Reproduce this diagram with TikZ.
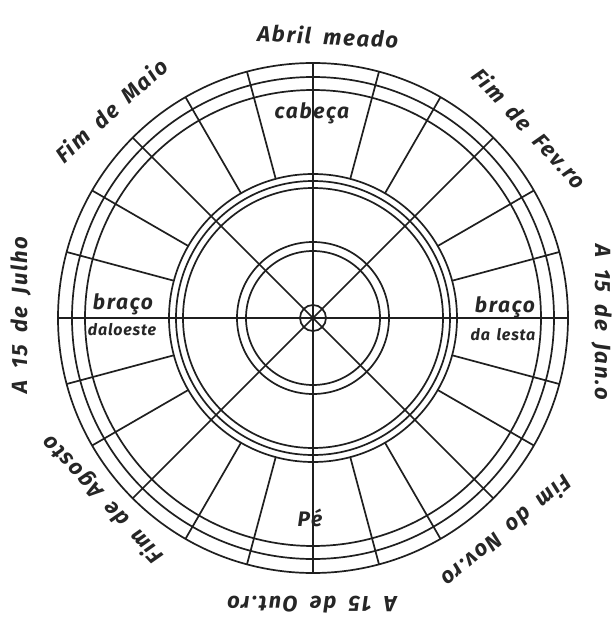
\documentclass[tikz,border=0pt]{standalone}
\usepackage{fontspec}
\setmainfont{Fira Sans}
\newfontfamily\handfont[LetterSpace=8,WordSpace=1.8]{Fira Sans}
\newfontfamily\handsmall[LetterSpace=5,WordSpace=1.5]{Fira Sans}
\begin{document}
\begin{tikzpicture}[x=1pt,y=1pt,
  ink/.style={line width=1.7pt,draw=black!88},
  outerlab/.style={font=\handfont\bfseries\itshape\fontsize{22}{24}\selectfont,text=black!85,inner sep=0pt},
  innerlab/.style={font=\handfont\bfseries\itshape\fontsize{21}{23}\selectfont,text=black!85,inner sep=0pt},
  smalllab/.style={font=\handsmall\bfseries\itshape\fontsize{16}{18}\selectfont,text=black!85,inner sep=0pt}]
\useasboundingbox (-313,-304) rectangle (303,318);
\fill[white] (-313,-304) rectangle (303,318);
% circles
\foreach \r in {13,67,76,130,137,144,228,241,255}
  \draw[ink] (0,0) circle (\r);
% main spokes every 45 degrees
\foreach \a in {0,45,...,315}
  \draw[ink] (\a:0) -- (\a:255);
% secondary radial lines every 15 degrees in the outer zone
\foreach \a in {15,30,60,75,105,120,150,165,195,210,240,255,285,300,330,345}
  \draw[ink] (\a:144) -- (\a:255);
% outer labels
\node[outerlab,rotate=-3] (abril) at (15,282) {Abril meado};
\node[outerlab,rotate=-47] (fev) at (217,190) {Fim de Fev.ro};
\node[outerlab,rotate=-90] (jan) at (289,-4) {A 15 de Jan.o};
\node[outerlab,rotate=-140] (nov) at (194,-214) {Fim do Nov.ro};
\node[outerlab,rotate=180] (out) at (-1,-287) {A 15 de Out.ro};
\node[outerlab,rotate=133] (ago) at (-210,-181) {Fim de Agosto};
\node[outerlab,rotate=90] (jul) at (-292,3) {A 15 de Julho};
\node[outerlab,rotate=42] (mai) at (-202,208) {Fim de Maio};
% inner labels
\node[innerlab] (cab) at (-1,205) {cabeça};
\node[innerlab] (bracoW) at (-190,14) {braço};
\node[smalllab] (oeste) at (-191,-12) {daloeste};
\node[innerlab] (bracoE) at (192,11) {braço};
\node[smalllab] (leste) at (190,-17) {da lesta};
\node[innerlab] (pe) at (-3,-200) {Pé};
\end{tikzpicture}
\end{document}
